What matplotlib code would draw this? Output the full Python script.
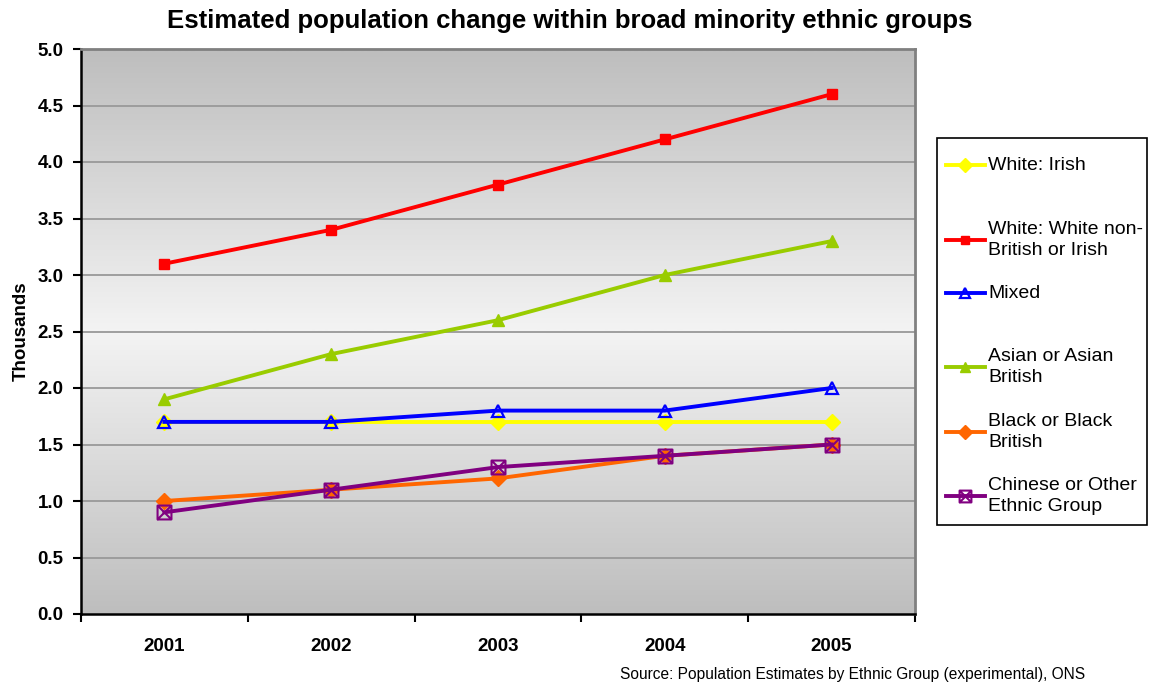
import numpy as np
import matplotlib
matplotlib.use("Agg")
import matplotlib.pyplot as plt
from matplotlib.path import Path
from matplotlib.lines import Line2D
from matplotlib.patches import Rectangle

plt.rcParams['font.family'] = ['Liberation Sans', 'DejaVu Sans']

years = ["2001", "2002", "2003", "2004", "2005"]
white_irish = [1.7, 1.7, 1.7, 1.7, 1.7]
white_other = [3.1, 3.4, 3.8, 4.2, 4.6]
mixed = [1.7, 1.7, 1.8, 1.8, 2.0]
asian = [1.9, 2.3, 2.6, 3.0, 3.3]
black = [1.0, 1.1, 1.2, 1.4, 1.5]
chinese = [0.9, 1.1, 1.3, 1.4, 1.5]

labels = ["White: Irish", "White: White non-\nBritish or Irish", "Mixed",
          "Asian or Asian\nBritish", "Black or Black\nBritish",
          "Chinese or Other\nEthnic Group"]

# square with X marker
sqx = Path([(-1, -1), (1, -1), (1, 1), (-1, 1), (-1, -1), (1, 1), (-1, 1), (1, -1)],
           [Path.MOVETO, Path.LINETO, Path.LINETO, Path.LINETO, Path.LINETO,
            Path.LINETO, Path.MOVETO, Path.LINETO])

styles = [
    dict(color="#FFFF00", marker="D", ms=8, mfc="#FFFF00", mec="#FFFF00"),
    dict(color="#FF0000", marker="s", ms=7.5, mfc="#FF0000", mec="#FF0000"),
    dict(color="#0000FF", marker="^", ms=9, mfc="none", mec="#0000FF", mew=1.6),
    dict(color="#99CC00", marker="^", ms=9, mfc="#99CC00", mec="#99CC00"),
    dict(color="#FF6600", marker="D", ms=8, mfc="#FF6600", mec="#FF6600"),
    dict(color="#800080", marker=sqx, ms=10, mfc="none", mec="#800080", mew=1.5),
]
series = [white_irish, white_other, mixed, asian, black, chinese]

W, H = 1150, 683
fig = plt.figure(figsize=(W / 100, H / 100), dpi=100)
ax = fig.add_axes([81 / W, 1 - 614 / H, (915 - 81) / W, (614 - 49) / H])

# gradient background
g = np.concatenate([np.linspace(190, 243, 50), np.linspace(243, 190, 50)]) / 255.0
img = np.dstack([g, g, g]).reshape(100, 1, 3)
ax.imshow(img, extent=[-0.5, 4.5, 0, 5], aspect="auto", zorder=0, interpolation="bilinear")

x = np.arange(len(years))
for ys, st in zip(series, styles):
    ax.plot(x, ys, lw=2.8, zorder=3, clip_on=False, **st)

ax.set_xlim(-0.5, 4.5)
ax.set_ylim(0, 5)
ax.set_yticks(np.arange(0, 5.01, 0.5))
ax.set_yticklabels([f"{v:.1f}" for v in np.arange(0, 5.01, 0.5)], fontsize=13.5, fontweight="bold")
ax.set_xticks(x)
ax.set_xticklabels(years, fontsize=13.5, fontweight="bold")
ax.set_xticks(np.arange(-0.5, 4.6, 1), minor=True)
ax.tick_params(axis="x", which="major", length=0, pad=17)
ax.tick_params(axis="x", which="minor", length=6, width=1.5, direction="out")
ax.tick_params(axis="y", length=6, width=1.5, direction="out", pad=6.5)
for v in np.arange(0.5, 5.01, 0.5):
    ax.axhline(v, color="#999999", lw=1.3, zorder=1)
for s in ["left", "bottom"]:
    ax.spines[s].set_color("black")
    ax.spines[s].set_linewidth(1.8)
for s in ["top", "right"]:
    ax.spines[s].set_color("#808080")
    ax.spines[s].set_linewidth(2)
ax.set_ylabel("Thousands", fontsize=13.5, fontweight="bold", labelpad=6)

fig.text(570 / W, 1 - 21 / H, "Estimated population change within broad minority ethnic groups",
         ha="center", va="center", fontsize=18.5, fontweight="bold")
fig.text(1085 / W, 1 - 675 / H, "Source: Population Estimates by Ethnic Group (experimental), ONS",
         ha="right", va="center", fontsize=11.2)

# manual legend
fig.patches.append(Rectangle((937 / W, 1 - 525 / H), (1147 - 937) / W, (525 - 138) / H,
                             transform=fig.transFigure, fill=True, facecolor="white",
                             edgecolor="black", lw=1.2, zorder=1))
centers = [165, 240, 293, 367, 432, 496]
for c, lab, st in zip(centers, labels, styles):
    yy = 1 - c / H
    ln = Line2D([946 / W, 985 / W], [yy, yy], transform=fig.transFigure, lw=2.8,
                color=st["color"], zorder=6)
    fig.lines.append(ln)
    st2 = dict(st)
    st2["ms"] = st["ms"] * 0.85
    mk = Line2D([965.5 / W], [yy], transform=fig.transFigure, lw=0, zorder=7, **st2)
    fig.lines.append(mk)
    fig.text(988 / W, yy, lab, ha="left", va="center", fontsize=14, linespacing=1.3, zorder=8)

fig.savefig("out.png", dpi=100)
